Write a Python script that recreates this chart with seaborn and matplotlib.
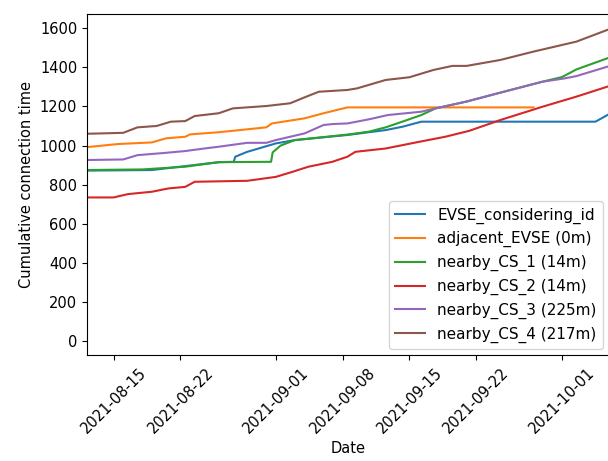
import pandas as pd
import matplotlib
matplotlib.use('Agg')
import matplotlib.pyplot as plt
import matplotlib.dates as mdates
import seaborn as sns

# cumulative connection time per station
evse_dates = ['2021-08-12', '2021-08-19', '2021-08-26', '2021-08-27 14:00', '2021-08-27 18:00',
              '2021-08-29', '2021-09-01', '2021-09-03', '2021-09-08 12:00', '2021-09-12 12:00',
              '2021-09-14 06:00', '2021-09-16 06:00', '2021-10-04 12:00', '2021-10-05 18:00']
evse_vals = [872, 875, 915, 917, 943, 968, 1011, 1028, 1054, 1079, 1096, 1122, 1122, 1156]

adj_dates = ['2021-08-12', '2021-08-15 12:00', '2021-08-19', '2021-08-20 12:00', '2021-08-22 12:00',
             '2021-08-23', '2021-08-26', '2021-08-31', '2021-08-31 14:00', '2021-09-04',
             '2021-09-06', '2021-09-08 12:00', '2021-09-28']
adj_vals = [991, 1008, 1016, 1037, 1045, 1057, 1068, 1093, 1113, 1139, 1165, 1195, 1195]

cs1_dates = ['2021-08-12', '2021-08-18', '2021-08-22 12:00', '2021-08-26', '2021-08-31 12:00',
             '2021-08-31 16:00', '2021-09-01 12:00', '2021-09-03', '2021-09-08 12:00',
             '2021-09-10 18:00', '2021-09-12 12:00', '2021-09-14 06:00', '2021-09-16 06:00',
             '2021-09-17 18:00', '2021-09-21', '2021-09-24 12:00', '2021-09-28 22:00',
             '2021-10-01', '2021-10-02 12:00', '2021-10-05 18:00']
cs1_vals = [875, 878, 892, 915, 917, 965, 1000, 1028, 1056, 1071, 1093, 1122, 1156,
            1190, 1225, 1270, 1326, 1350, 1389, 1446]

cs2_dates = ['2021-08-12', '2021-08-15', '2021-08-16 12:00', '2021-08-19', '2021-08-20 18:00',
             '2021-08-22 12:00', '2021-08-23 12:00', '2021-08-29', '2021-09-01', '2021-09-02 18:00',
             '2021-09-04 10:00', '2021-09-06 22:00', '2021-09-08 12:00', '2021-09-09 08:00',
             '2021-09-12 12:00', '2021-09-16', '2021-09-18 18:00', '2021-09-21 06:00',
             '2021-09-24 12:00', '2021-09-28 22:00', '2021-10-02 12:00', '2021-10-05 18:00']
cs2_vals = [735, 735, 752, 764, 781, 789, 815, 820, 840, 866, 892, 917, 943, 968, 985,
            1019, 1045, 1075, 1130, 1198, 1250, 1301]

cs3_dates = ['2021-08-12', '2021-08-16', '2021-08-17 12:00', '2021-08-20 12:00', '2021-08-22 12:00',
             '2021-08-24 12:00', '2021-08-26', '2021-08-29', '2021-08-31', '2021-09-01',
             '2021-09-04', '2021-09-06', '2021-09-07', '2021-09-08 12:00', '2021-09-10 18:00',
             '2021-09-12 18:00', '2021-09-16 06:00', '2021-09-17 18:00', '2021-09-21',
             '2021-09-24 12:00', '2021-09-28 22:00', '2021-10-01 06:00', '2021-10-02 12:00',
             '2021-10-05 18:00']
cs3_vals = [926, 929, 951, 963, 972, 985, 994, 1014, 1014, 1028, 1062, 1105, 1110, 1113,
            1134, 1156, 1173, 1190, 1225, 1270, 1326, 1343, 1355, 1403]

cs4_dates = ['2021-08-12', '2021-08-16', '2021-08-17 12:00', '2021-08-19 12:00', '2021-08-21',
             '2021-08-22 12:00', '2021-08-23 12:00', '2021-08-26', '2021-08-27 12:00', '2021-08-31',
             '2021-09-02 12:00', '2021-09-04', '2021-09-05 12:00', '2021-09-08 12:00',
             '2021-09-09 12:00', '2021-09-12 12:00', '2021-09-15', '2021-09-17 12:00',
             '2021-09-19 12:00', '2021-09-21', '2021-09-24 12:00', '2021-09-28',
             '2021-10-02 12:00', '2021-10-05 18:00']
cs4_vals = [1060, 1065, 1093, 1100, 1122, 1125, 1151, 1165, 1190, 1202, 1216, 1246, 1275,
            1284, 1292, 1335, 1349, 1386, 1407, 1407, 1437, 1480, 1531, 1591]

labels = ['EVSE_considering_id', 'adjacent_EVSE (0m)', 'nearby_CS_1 (14m)',
          'nearby_CS_2 (14m)', 'nearby_CS_3 (225m)', 'nearby_CS_4 (217m)']
series = [(evse_dates, evse_vals), (adj_dates, adj_vals), (cs1_dates, cs1_vals),
          (cs2_dates, cs2_vals), (cs3_dates, cs3_vals), (cs4_dates, cs4_vals)]

plt.rcParams['font.size'] = 10.5
fig = plt.figure(figsize=(6.08, 4.61), dpi=100)
ax = fig.add_axes([0.1431, 0.2299, 0.8586, 0.7397])

colors = sns.color_palette('tab10', 6)
for (d, v), lab, c in zip(series, labels, colors):
    sns.lineplot(x=pd.to_datetime(d, format='mixed'), y=v, label=lab, color=c, ax=ax, linewidth=1.5)

ax.set_xlim(pd.Timestamp('2021-08-12 05:00'), pd.Timestamp('2021-10-05 22:00'))
ax.set_ylim(-70, 1672)
ax.xaxis.set_major_locator(mdates.DayLocator(bymonthday=[1, 8, 15, 22]))
ax.xaxis.set_major_formatter(mdates.DateFormatter('%Y-%m-%d'))
plt.setp(ax.get_xticklabels(), rotation=45)
ax.set_xlabel('Date')
ax.set_ylabel('Cumulative connection time')
ax.legend(loc='lower right', fontsize=11, borderaxespad=0.4)

fig.savefig('out.png', dpi=100)
